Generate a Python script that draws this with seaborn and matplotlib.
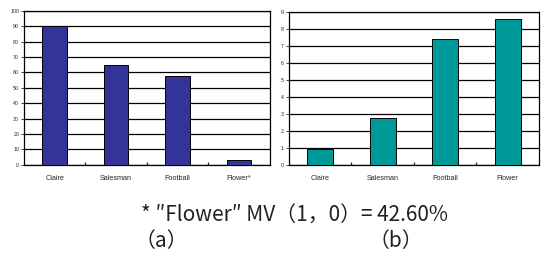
import matplotlib
matplotlib.use("Agg")
import matplotlib.pyplot as plt
import seaborn as sns
import numpy as np

# data
cats_a = ["Claire", "Salesman", "Football", "Flower*"]
vals_a = [90, 65, 57.5, 3.5]
cats_b = ["Claire", "Salesman", "Football", "Flower"]
vals_b = [0.95, 2.75, 7.4, 8.55]

sns.set_style("white")
plt.rcParams['font.family'] = ['Liberation Sans', 'DejaVu Sans']

fig = plt.figure(figsize=(5.45, 2.63), dpi=100)
ax_a = fig.add_axes([0.044, 0.373, 0.451, 0.586])
ax_b = fig.add_axes([0.530, 0.373, 0.459, 0.582])


def excel_bars(ax, cats, vals, color, width, ymax, step):
    sns.barplot(x=cats, y=vals, color=color, width=width, saturation=1,
                edgecolor="black", linewidth=0.7, ax=ax, zorder=3)
    ax.set_xlim(-0.5, len(cats) - 0.5)
    ax.set_ylim(0, ymax)
    ax.set_yticks(np.arange(0, ymax + step / 2, step))
    ax.yaxis.grid(True, color="black", lw=0.9, zorder=0)
    ax.set_axisbelow(True)
    for s in ax.spines.values():
        s.set_color("black")
        s.set_linewidth(0.9)
    ax.tick_params(axis="y", labelsize=3.8, length=2, width=0.6, pad=1.5, left=True)
    ax.tick_params(axis="x", which="major", length=0, labelsize=5.2, pad=7)
    ax.set_xticks(np.arange(0.5, len(cats) - 0.5), minor=True)
    ax.tick_params(axis="x", which="minor", direction="in", length=2.5, width=0.9,
                   bottom=True)


excel_bars(ax_a, cats_a, vals_a, "#333399", 0.4, 100, 10)
excel_bars(ax_b, cats_b, vals_b, "#009999", 0.42, 9, 1)

cjk = ['Noto Sans CJK KR', 'DejaVu Sans']
fig.text(0.541, 0.183, "* ″Flower″ MV（1，0）= 42.60%", ha="center", va="center",
         fontsize=15, family=cjk, color="#222222")
fig.text(0.296, 0.084, "（a）", ha="center", va="center", fontsize=15, family=cjk,
         color="#222222")
fig.text(0.727, 0.084, "（b）", ha="center", va="center", fontsize=15, family=cjk,
         color="#222222")

fig.savefig("out.png", dpi=100)
